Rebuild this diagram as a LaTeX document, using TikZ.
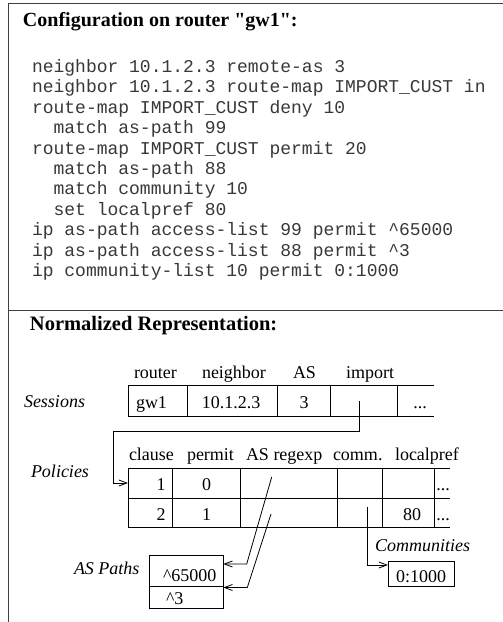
\documentclass[tikz,border=0pt]{standalone}
\usepackage{fontspec}
\setmainfont{Liberation Serif}
\setmonofont{Liberation Mono}
\newfontfamily\plainserif{Liberation Serif}
\usetikzlibrary{arrows.meta}
\begin{document}
\begin{tikzpicture}[x=1pt,y=-1pt,
  every node/.style={inner sep=0pt,outer sep=0pt},
  head/.style={anchor=base west,font=\plainserif\bfseries\fontsize{20}{22}\selectfont},
  code/.style={anchor=base west,text=black!78,font=\ttfamily\fontsize{18}{20}\selectfont},
  lbl/.style={anchor=base west,font=\itshape\fontsize{18}{20}\selectfont},
  txt/.style={anchor=base,font=\fontsize{18}{20}\selectfont},
  txtw/.style={anchor=base west,font=\fontsize{18}{20}\selectfont},
  txte/.style={anchor=base east,font=\fontsize{18}{20}\selectfont},
  frame/.style={draw=black!75,line width=1pt},
  tab/.style={draw=black,line width=0.8pt},
  conn/.style={draw=black,line width=0.8pt},
  arr/.style={conn,-{Straight Barb[length=8pt,width=6pt,line width=0.8pt]}}]
\useasboundingbox (0,0) rectangle (503,622);
% frame
\draw[frame] (503,3) -- (8.5,3) -- (8.5,622);
\draw[frame] (8.5,310) -- (503,310);
% config
\node[head] (t1) at (23,26.5) {Configuration on router "gw1":};
\node[code] (c1)  at (32,72.5)  {neighbor 10.1.2.3 remote-as 3};
\node[code] (c2)  at (32,92.9)  {neighbor 10.1.2.3 route-map IMPORT\_CUST in};
\node[code] (c3)  at (32,113.3) {route-map IMPORT\_CUST deny 10};
\node[code] (c4)  at (53.6,133.7) {match as-path 99};
\node[code] (c5)  at (32,154.1) {route-map IMPORT\_CUST permit 20};
\node[code] (c6)  at (53.6,174.5) {match as-path 88};
\node[code] (c7)  at (53.6,194.9) {match community 10};
\node[code] (c8)  at (53.6,215.3) {set localpref 80};
\node[code] (c9)  at (32,235.7) {ip as-path access-list 99 permit \textasciicircum65000};
\node[code] (c10) at (32,256.1) {ip as-path access-list 88 permit \textasciicircum3};
\node[code] (c11) at (32,276.5) {ip community-list 10 permit 0:1000};
% normalized
\node[head,font=\plainserif\bfseries\fontsize{20.5}{22}\selectfont] (t2) at (30,330.5) {Normalized Representation:};
% Sessions
\node[lbl] (ls) at (24,407) {Sessions};
\node[txtw] (h1) at (134,378) {router};
\node[txtw] (h2) at (202,378) {neighbor};
\node[txtw] (h3) at (293,378) {AS};
\node[txtw] (h4) at (346,378) {import};
\draw[tab] (434,385.5) -- (128,385.5) -- (128,416.5) -- (434,416.5);
\foreach \x in {187.5,277.5,330,397.5} \draw[tab] (\x,385.5) -- (\x,416.5);
\node[txtw] (s1) at (136,408) {gw1};
\node[txt] (s2) at (231,408) {10.1.2.3};
\node[txt] (s3) at (304,408) {3};
\node[txt] (s4) at (420,408) {...};
\coordinate (imp) at (359.3,401);
% Policies
\node[lbl] (lp) at (31,477) {Policies};
\node[txtw] (p1) at (129,460) {clause};
\node[txtw] (p2) at (187,460) {permit};
\node[txtw] (p3) at (246,460) {AS regexp};
\node[txtw] (p4) at (333,460) {comm.};
\node[txtw] (p5) at (395,460) {localpref};
\draw[tab] (450,468) -- (128,468) -- (128,527.5) -- (450,527.5);
\draw[tab] (128,498) -- (450,498);
\foreach \x in {172.7,240,337.3,382.7,434.3} \draw[tab] (\x,468) -- (\x,527.5);
\node[txte] (r11) at (165.5,490) {1};
\node[txt] (r12) at (206.5,490) {0};
\node[txt] (r13) at (443,490) {...};
\node[txte] (r21) at (165.5,520) {2};
\node[txt] (r22) at (206.5,520) {1};
\node[txt] (r23) at (412,520) {80};
\node[txt] (r24) at (443,520) {...};
\coordinate (pol1) at (128,483);
\coordinate (re1) at (271.7,477);
\coordinate (re2) at (271,514);
\coordinate (cm2) at (367,507);
% AS paths
\node[lbl] (la) at (74,574) {AS Paths};
\draw[tab] (149,555.7) rectangle (223.3,608.3);
\draw[tab] (149,586.7) -- (223.3,586.7);
\node[txtw] (a1) at (163,581) {\textasciicircum65000};
\node[txtw] (a2) at (166,604) {\textasciicircum3};
\coordinate (ap1) at (223.3,564);
\coordinate (ap2) at (223.3,587.5);
% Communities
\node[lbl] (lc) at (375,551) {Communities};
\draw[tab] (388,561) rectangle (454,586);
\node[txt] (cv) at (421,582) {0:1000};
\coordinate (cb) at (388,565);
% connectors
\draw[arr] (imp) |- (113.3,431) |- (pol1);
\draw[arr] (re1) -- (246.7,564) -- (ap1);
\draw[arr] (re2) -- (247.3,587.5) -- (ap2);
\draw[arr] (cm2) |- (cb);
\end{tikzpicture}
\end{document}
